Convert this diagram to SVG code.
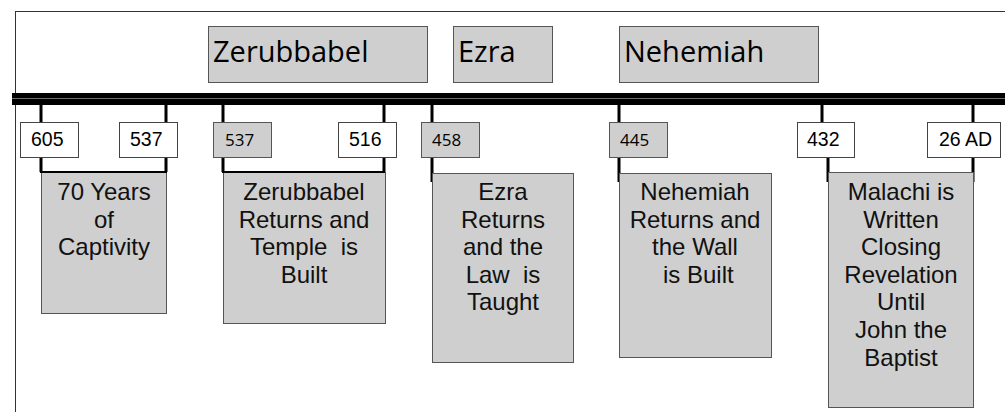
<svg xmlns="http://www.w3.org/2000/svg" width="1005" height="412" viewBox="0 0 1005 412">
<style>
.frame{fill:#fff;stroke:#333;stroke-width:1}
.gbox{fill:#cfcfcf;stroke:#555;stroke-width:1}
.wbox{fill:#fff;stroke:#444;stroke-width:1}
.title{font-family:"Open Sans","Noto Sans",sans-serif;font-size:29px;fill:#000}
.gdate{font-family:"Open Sans","Noto Sans",sans-serif;font-size:17px;fill:#000}
.wdate{font-family:"Liberation Sans",Arial,sans-serif;font-size:19.5px;fill:#000}
.ev{font-family:"Liberation Sans",Arial,sans-serif;font-size:24px;fill:#111;text-anchor:middle;white-space:pre}
.tick{stroke:#000;stroke-width:3;fill:none}
.br{stroke:#000;stroke-width:2;fill:none}
</style>
<rect class="frame" x="15.5" y="11.5" width="1000" height="410"/>
<g id="people">
<g id="p-zerubbabel"><rect class="gbox" x="208.5" y="26.5" width="219" height="56"/><text class="title" x="213" y="62">Zerubbabel</text></g>
<g id="p-ezra"><rect class="gbox" x="453.5" y="26.5" width="99" height="56"/><text class="title" x="458" y="62">Ezra</text></g>
<g id="p-nehemiah"><rect class="gbox" x="619.5" y="26.5" width="199" height="56"/><text class="title" x="624" y="62">Nehemiah</text></g>
</g>
<g id="timeline">
<rect x="12" y="93" width="1000" height="12" fill="#000"/>
<line x1="12" y1="98.5" x2="1005" y2="98.5" stroke="#888" stroke-width="0.8"/>
</g>
<g id="connectors">
<path class="tick" d="M41 105V122M166 105V122M223 105V122M384 105V122M432 105V122M619 105V122M822 105V122M973 105V122"/>
<path class="tick" d="M432 155V182M619 155V182M828 155V182M973 155V182"/>
</g>
<g id="events">
<g id="e-captivity"><rect class="gbox" x="41.5" y="172.5" width="125" height="141"/><path class="br" d="M41 155V172H166V155"/><path class="tick" d="M41 155V172M166 155V172"/>
<text class="ev" x="104" y="200">70 Years</text><text class="ev" x="104" y="227.6">of</text><text class="ev" x="104" y="255.2">Captivity</text></g>
<g id="e-temple"><rect class="gbox" x="223.5" y="172.5" width="162" height="151"/><path class="br" d="M223 155V172H384V155"/><path class="tick" d="M223 155V172M384 155V172"/>
<text class="ev" x="304" y="200">Zerubbabel</text><text class="ev" x="304" y="227.6">Returns and</text><text class="ev" x="304" y="255.2">Temple  is</text><text class="ev" x="304" y="282.8">Built</text></g>
<g id="e-law"><rect class="gbox" x="432.5" y="173.5" width="141" height="189"/>
<text class="ev" x="503" y="200">Ezra</text><text class="ev" x="503" y="227.6">Returns</text><text class="ev" x="503" y="255.2">and the</text><text class="ev" x="503" y="282.8">Law  is</text><text class="ev" x="503" y="310.4">Taught</text></g>
<g id="e-wall"><rect class="gbox" x="619.5" y="173.5" width="152" height="184"/>
<text class="ev" x="695" y="200">Nehemiah</text><text class="ev" x="695" y="227.6">Returns and</text><text class="ev" x="695" y="255.2">the Wall</text><text class="ev" x="695" y="282.8"> is Built</text></g>
<g id="e-malachi"><rect class="gbox" x="828.5" y="172.5" width="145" height="235"/>
<text class="ev" x="901" y="200">Malachi is</text><text class="ev" x="901" y="227.6">Written</text><text class="ev" x="901" y="255.2">Closing</text><text class="ev" x="901" y="282.8">Revelation</text><text class="ev" x="901" y="310.4">Until</text><text class="ev" x="901" y="338">John the</text><text class="ev" x="901" y="365.6">Baptist</text></g>
</g>
<g id="dates">
<g id="d-605"><rect class="wbox" x="20.5" y="122.5" width="58" height="35"/><text class="wdate" x="31" y="146">605</text></g>
<g id="d-537a"><rect class="wbox" x="119.5" y="122.5" width="58" height="35"/><text class="wdate" x="130" y="146">537</text></g>
<g id="d-537b"><rect class="gbox" x="213.5" y="122.5" width="58" height="35"/><text class="gdate" x="225" y="146">537</text></g>
<g id="d-516"><rect class="wbox" x="338.5" y="122.5" width="58" height="35"/><text class="wdate" x="349" y="146">516</text></g>
<g id="d-458"><rect class="gbox" x="421.5" y="122.5" width="58" height="35"/><text class="gdate" x="432" y="146">458</text></g>
<g id="d-445"><rect class="gbox" x="609.5" y="122.5" width="58" height="35"/><text class="gdate" x="620" y="146">445</text></g>
<g id="d-432"><rect class="wbox" x="797.5" y="122.5" width="57" height="35"/><text class="wdate" x="807" y="146">432</text></g>
<g id="d-26ad"><rect class="wbox" x="927.5" y="122.5" width="73" height="35"/><text class="wdate" x="939" y="146">26 AD</text></g>
</g>
</svg>
